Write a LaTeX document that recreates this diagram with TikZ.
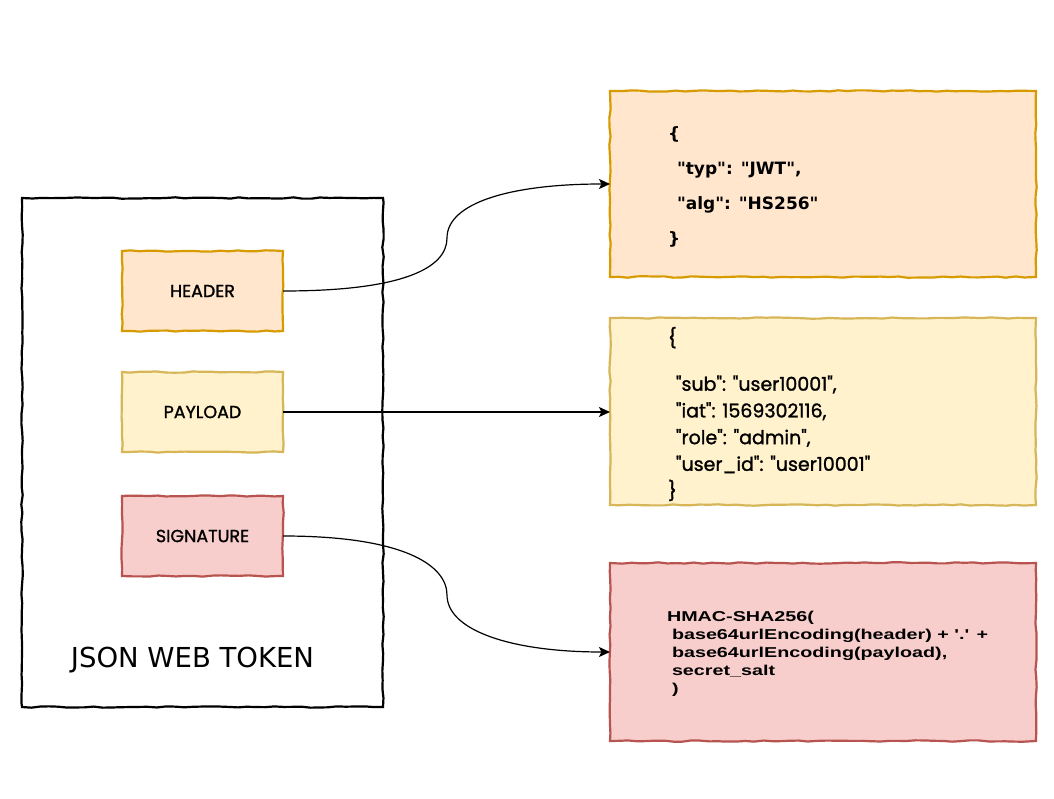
\documentclass[tikz,border=0pt]{standalone}
\usepackage{fontspec}
\usetikzlibrary{decorations.pathmorphing,arrows.meta,backgrounds}
\newfontfamily\comicf[Ligatures=TeXOff,FakeBold=1.3]{Poppins}
\newfontfamily\verdf[Ligatures=TeXOff]{DejaVu Sans}
\newfontfamily\arialf[Ligatures=TeXOff,FakeStretch=1.38]{Liberation Sans}
\definecolor{hfill}{HTML}{FFE6CC}\definecolor{hdraw}{HTML}{D79B00}
\definecolor{pfill}{HTML}{FFF2CC}\definecolor{pdraw}{HTML}{D6B656}
\definecolor{sfill}{HTML}{F8CECC}\definecolor{sdraw}{HTML}{B85450}
\begin{document}
\begin{tikzpicture}[x=1pt,y=-1pt,
  boxshape/.style={inner sep=0pt, outer sep=0pt},
  sketch/.style={line width=2.2pt, decorate,
    decoration={random steps, segment length=9pt, amplitude=0.7pt}},
  smallbox/.style={boxshape, minimum width=161pt, minimum height=80pt,
    font=\comicf\fontsize{17.5}{20}\selectfont},
  bigbox/.style={boxshape, minimum width=426pt},
  jtext/.style={inner sep=0pt, outer sep=0pt, anchor=north west, align=left},
  conn/.style={draw, line width=1.2pt, -{Stealth[length=11pt,width=10pt,inset=2.5pt]}}]
\pgfmathsetseed{7}
\useasboundingbox (0,0) rectangle (1054,799);
% outer token box
\node[boxshape, minimum width=361pt, minimum height=509pt] (tok) at (202.5,452.5) {};
\node[font=\verdf\fontsize{27.5}{32}\selectfont] (toklabel) at (192.5,660) {JSON WEB TOKEN};
% parts
\node[smallbox] (h) at (202.5,291) {HEADER};
\node[smallbox] (p) at (202.5,412) {PAYLOAD};
\node[smallbox] (s) at (202.5,536) {SIGNATURE};
% right boxes
\node[bigbox, minimum height=186pt] (hj) at (823,184) {};
\node[bigbox, minimum height=187pt] (pj) at (823,411.5) {};
\node[bigbox, minimum height=178pt] (sj) at (823,652) {};
% texts
\node[jtext, font=\verdf\bfseries\fontsize{17}{35}\selectfont] (hjt) at (668,127)
  {\{\\\hspace*{9pt}"typ": "JWT",\\\hspace*{9pt}"alg": "HS256"\\\}};
\node[jtext, font=\comicf\fontsize{19}{26.7}\selectfont] (pjt) at (668,327)
  {\{\\[19.3pt]\hspace*{8pt}"sub": "user10001",\\\hspace*{8pt}"iat": 1569302116,\\\hspace*{8pt}"role": "admin",\\\hspace*{8pt}"user\_id": "user10001"\\\}};
\node[jtext, font=\arialf\bfseries\fontsize{14.3}{18}\selectfont] (sjt) at (667,611)
  {HMAC-SHA256(\\\hspace*{5pt}base64urlEncoding(header) + '.' +\\\hspace*{5pt}base64urlEncoding(payload),\\\hspace*{5pt}secret\_salt\\\hspace*{5pt})};
% box outlines
\begin{scope}[on background layer]
\fill[white] (0,0) rectangle (1054,799);
\filldraw[sketch, draw=black, fill=white] (tok.north west) rectangle (tok.south east);
\filldraw[sketch, draw=hdraw, fill=hfill] (h.north west) rectangle (h.south east);
\filldraw[sketch, draw=pdraw, fill=pfill] (p.north west) rectangle (p.south east);
\filldraw[sketch, draw=sdraw, fill=sfill] (s.north west) rectangle (s.south east);
\filldraw[sketch, draw=hdraw, fill=hfill] (hj.north west) rectangle (hj.south east);
\filldraw[sketch, draw=pdraw, fill=pfill] (pj.north west) rectangle (pj.south east);
\filldraw[sketch, draw=sdraw, fill=sfill] (sj.north west) rectangle (sj.south east);
\end{scope}
% connectors
\coordinate (hm) at (447,238);
\coordinate (sm) at (447,595);
\draw[conn] (h.east) .. controls +(120,0) and +(0,30) .. (hm) .. controls +(0,-35) and +(-100,0) .. (hj.west);
\draw[conn] (p.east) -- (pj.west |- p.east);
\draw[conn] (s.east) .. controls +(120,0) and +(0,-30) .. (sm) .. controls +(0,35) and +(-100,0) .. (sj.west);
\end{tikzpicture}
\end{document}
